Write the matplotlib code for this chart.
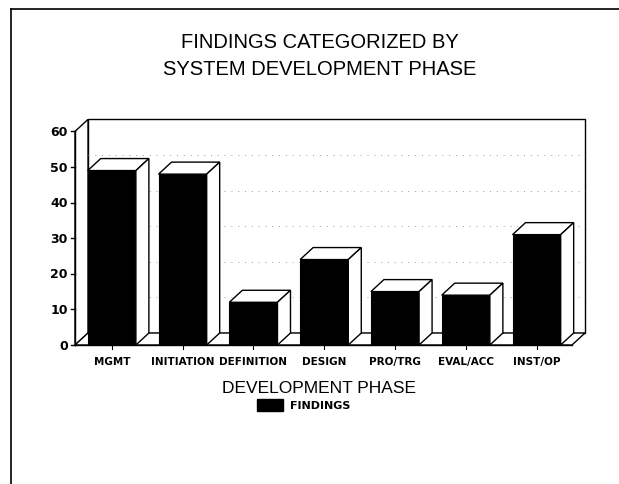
import numpy as np
import matplotlib.pyplot as plt
from matplotlib.patches import Polygon, Rectangle
from matplotlib.lines import Line2D

# data
phases = ['MGMT', 'INITIATION', 'DEFINITION', 'DESIGN', 'PRO/TRG', 'EVAL/ACC', 'INST/OP']
findings = [49, 48, 12, 24, 15, 14, 31]
yticks = [0, 10, 20, 30, 40, 50, 60]

plt.rcParams['font.family'] = ['Liberation Sans', 'DejaVu Sans']
boldfont = ['DejaVu Sans']

fig = plt.figure(figsize=(6.19, 4.85), dpi=100)
ax = fig.add_axes([75 / 619, 139 / 485, 497 / 619, 213.6 / 485])
x0, x1 = -0.52, 6.5
ax.set_xlim(x0, x1)
ax.set_ylim(0, 60)
ax.axis('off')

# depth of the fake 3d effect (in data units)
dx = 13 / 70.8
dy = 12 / 3.56
bw = 0.68

# walls and floor
back = Rectangle((x0 + dx, dy), x1 - x0, 60, facecolor='white', edgecolor='black', lw=1.0, clip_on=False, zorder=1)
ax.add_patch(back)
left = Polygon([(x0, 0), (x0, 60), (x0 + dx, 60 + dy), (x0 + dx, dy)], closed=True,
               facecolor='white', edgecolor='black', lw=1.0, clip_on=False, zorder=1)
ax.add_patch(left)
floor = Polygon([(x0, 0), (x1, 0), (x1 + dx, dy), (x0 + dx, dy)], closed=True,
                facecolor='white', edgecolor='black', lw=1.0, clip_on=False, zorder=1)
ax.add_patch(floor)

for t in yticks[1:-1]:
    ax.plot([x0 + dx, x1 + dx], [t + dy, t + dy], color='#999999', lw=0.7,
            linestyle=(0, (1, 6)), clip_on=False, zorder=1.5)

# bars
xs = np.arange(len(phases))
for i, v in enumerate(findings):
    l = xs[i] - bw / 2
    r = xs[i] + bw / 2
    ax.bar(xs[i], v, width=bw, color='black', edgecolor='black', lw=0.8, zorder=2 + i * 0.1)
    top = Polygon([(l, v), (r, v), (r + dx, v + dy), (l + dx, v + dy)], closed=True,
                  facecolor='white', edgecolor='black', lw=1.0, clip_on=False, zorder=2 + i * 0.1)
    side = Polygon([(r, 0), (r, v), (r + dx, v + dy), (r + dx, dy)], closed=True,
                   facecolor='white', edgecolor='black', lw=1.0, clip_on=False, zorder=2 + i * 0.1)
    ax.add_patch(top)
    ax.add_patch(side)

# front axis line and ticks
ax.plot([x0, x0], [0, 60], color='black', lw=1.0, clip_on=False, zorder=3)
ax.plot([x0, x1], [0, 0], color='black', lw=1.0, clip_on=False, zorder=3)
tk = 4 / 70.8
for t in yticks:
    ax.plot([x0 - tk, x0], [t, t], color='black', lw=1.0, clip_on=False, zorder=3)
    ax.text(x0 - 1.8 * tk, t, str(t), ha='right', va='center', fontsize=9, fontweight='bold', family=boldfont)
for i, name in enumerate(phases):
    ax.plot([xs[i], xs[i]], [0, -1.2], color='black', lw=0.8, clip_on=False, zorder=3)
    ax.text(xs[i], -4.6, name, ha='center', va='center', fontsize=7.5, fontweight='bold', family=boldfont)

ax.text(2.92, -11.8, 'DEVELOPMENT PHASE', ha='center', va='center', fontsize=12.5)

# legend
fig.patches.append(Rectangle((257 / 619, 1 - 412 / 485), 26 / 619, 12 / 485, transform=fig.transFigure,
                             facecolor='black', edgecolor='black', figure=fig))
fig.text(290 / 619, 1 - 406 / 485, 'FINDINGS', ha='left', va='center', fontsize=8, fontweight='bold', family=boldfont)

# title
fig.text(320 / 619, 1 - 56 / 485, 'FINDINGS CATEGORIZED BY\nSYSTEM DEVELOPMENT PHASE',
         ha='center', va='center', fontsize=14.5, linespacing=1.5)

# page frame (top and left edges)
fig.add_artist(Line2D([11 / 619, 1.0], [1 - 10 / 485, 1 - 10 / 485], transform=fig.transFigure, color='black', lw=1.2))
fig.add_artist(Line2D([11 / 619, 11 / 619], [1 - 10 / 485, 0.0], transform=fig.transFigure, color='black', lw=1.2))

fig.savefig('out.png', dpi=100)
